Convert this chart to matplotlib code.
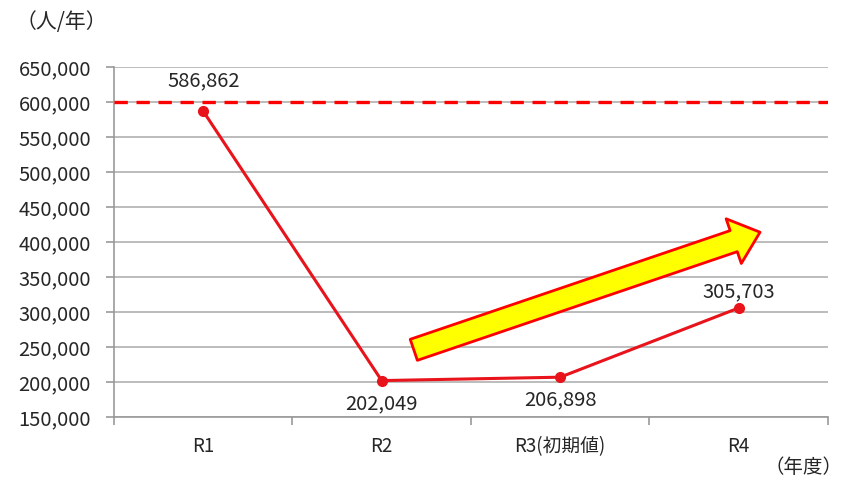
import matplotlib.pyplot as plt
from matplotlib.ticker import FuncFormatter, FixedLocator

plt.rcParams['font.family'] = ['Noto Sans CJK JP', 'DejaVu Sans']

# visitors per year, by fiscal year
years = ["R1", "R2", "R3(初期値)", "R4"]
visitors = [586862, 202049, 206898, 305703]
target = 600000
# label offset from each point, in points (positive = above)
label_offsets = [22, -17, -16, 12]

# trend arrow, in category / value units (tail -> tip)
arrow_tail = (1.18, 246000)
arrow_tip = (3.12, 414000)

LINE_RED = "#e8131b"
TEXT = "#262626"

fig = plt.figure(figsize=(8.43, 4.83), dpi=100)
ax = fig.add_axes([0.1352, 0.1366, 0.8468, 0.7247])

x = list(range(len(years)))
ax.plot(x, visitors, color=LINE_RED, lw=2.2, marker="o", markersize=7, zorder=4)
ax.axhline(target, color="#ff0000", lw=2.4, ls=(0, (4, 2.6)), zorder=3)

for xi, v, off in zip(x, visitors, label_offsets):
    ax.annotate(f"{v:,}", (xi, v), xytext=(0, off), textcoords="offset points",
                ha="center", va="center", fontsize=14.5, color=TEXT)

ax.annotate("", xy=arrow_tip, xytext=arrow_tail,
            arrowprops=dict(arrowstyle="simple,head_length=2.0,head_width=3.4,tail_width=1.6",
                            mutation_scale=10, fc="#ffff00", ec="#ff0000", lw=2,
                            shrinkA=0, shrinkB=0),
            zorder=5)

ax.set_xlim(-0.5, len(years) - 0.5)
ax.set_ylim(150000, 650000)
ax.set_yticks(range(150000, 650001, 50000))
ax.yaxis.set_major_formatter(FuncFormatter(lambda v, p: f"{int(v):,}"))
ax.set_xticks(x)
ax.set_xticklabels(years)
ax.xaxis.set_minor_locator(FixedLocator([i - 0.5 for i in range(len(years) + 1)]))
ax.tick_params(axis="x", which="major", length=0, pad=14, labelsize=13.5, labelcolor=TEXT)
ax.tick_params(axis="x", which="minor", length=6, color="#999999", width=1.2)
ax.tick_params(axis="y", length=5.5, color="#999999", width=1.2, labelsize=14.5, labelcolor=TEXT, pad=11)

ax.grid(axis="y", color="#b0b0b0", lw=1.2)
ax.set_axisbelow(True)
for side in ("top", "right"):
    ax.spines[side].set_visible(False)
for side in ("left", "bottom"):
    ax.spines[side].set_color("#999999")
    ax.spines[side].set_linewidth(1.2)

fig.text(0.018, 0.955, "（人/年）", fontsize=15, color=TEXT, va="center", ha="left")
fig.text(0.999, 0.032, "（年度）", fontsize=14, color=TEXT, va="center", ha="right")

fig.savefig("out.png", dpi=100)
